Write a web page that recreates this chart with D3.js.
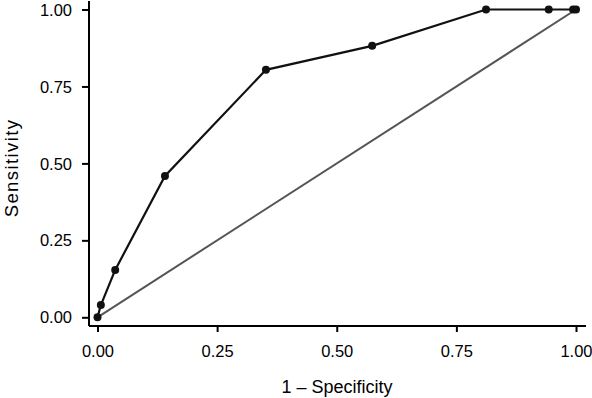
<!DOCTYPE html>
<html>
<head>
<meta charset="utf-8">
<script src="https://cdn.jsdelivr.net/npm/d3@7"></script>
<style>
  body { margin: 0; background: #fff; }
  svg text { font-family: "Liberation Sans", Arial, sans-serif; fill: #000; }
</style>
</head>
<body>
<svg width="592" height="398"></svg>
<script>
// ROC points
const fpr = [0, 0.007, 0.037, 0.141, 0.352, 0.574, 0.812, 0.943, 0.994, 1]
const tpr = [0, 0.04, 0.154, 0.459, 0.804, 0.882, 1, 1, 1, 1]
const ticks = [0, 0.25, 0.5, 0.75, 1]
const xTitle = "1 \u2013 Specificity"
const yTitle = "Sensitivity"

const svg = d3.select("svg")

// pixel positions of 0 and 1 on each axis
const x = d3.scaleLinear().domain([0, 1]).range([97.5, 576])
const y = d3.scaleLinear().domain([0, 1]).range([317.3, 9.5])

const pts = fpr.map((v, i) => ({ x: v, y: tpr[i] }))

const xAxis = d3.axisBottom(x).tickValues(ticks).tickFormat(d3.format(".2f"))
  .tickSizeOuter(0).tickSizeInner(6)
const yAxis = d3.axisLeft(y).tickValues(ticks).tickFormat(d3.format(".2f"))
  .tickSizeOuter(0).tickSizeInner(7)

const gx = svg.append("g").attr("transform", "translate(0,326)").call(xAxis)
const gy = svg.append("g").attr("transform", "translate(89,0)").call(yAxis)

// axis lines run a bit past the data
gx.select(".domain").attr("d", `M89,0H586`)
gy.select(".domain").attr("d", `M0,1V326`)

for (const g of [gx, gy]) {
  g.selectAll(".domain, .tick line").attr("stroke", "#000").attr("stroke-width", 2)
  g.selectAll(".tick text").attr("font-size", 16.5).attr("font-family", null)
}
gx.selectAll(".tick text").attr("y", 31).attr("dy", 0)
gy.selectAll(".tick text").attr("x", -17).attr("dy", "0.34em")

// diagonal reference
svg.append("line")
  .attr("x1", x(0)).attr("y1", y(0))
  .attr("x2", x(1)).attr("y2", y(1))
  .attr("stroke", "#555").attr("stroke-width", 2)

// ROC curve
const line = d3.line().x(d => x(d.x)).y(d => y(d.y))
svg.append("path")
  .datum(pts)
  .attr("d", line)
  .attr("fill", "none")
  .attr("stroke", "#111")
  .attr("stroke-width", 2.2)

svg.selectAll("circle.pt")
  .data(pts).enter().append("circle")
  .attr("class", "pt")
  .attr("cx", d => x(d.x))
  .attr("cy", d => y(d.y))
  .attr("r", 4)
  .attr("fill", "#111")

// titles
svg.append("text")
  .attr("x", 337).attr("y", 393)
  .attr("text-anchor", "middle")
  .attr("font-size", 18)
  .text(xTitle)

svg.append("text")
  .attr("transform", "translate(18,168) rotate(-90)")
  .attr("text-anchor", "middle")
  .attr("font-size", 18.5)
  .style("letter-spacing", "1.4px")
  .text(yTitle)
</script>
</body>
</html>
